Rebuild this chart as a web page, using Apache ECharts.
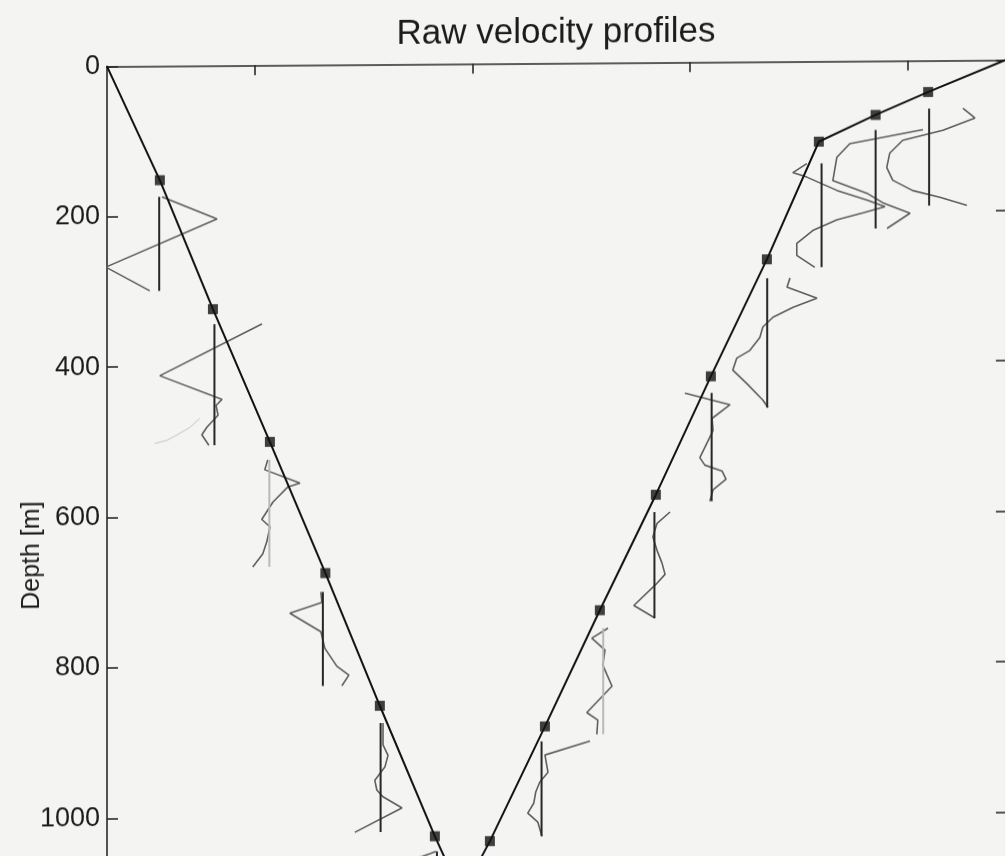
<!DOCTYPE html>
<html>
<head>
<meta charset="utf-8">
<title>Raw velocity profiles</title>
<script src="https://cdn.jsdelivr.net/npm/echarts@6/dist/echarts.min.js"></script>
<style>
  html, body { margin: 0; padding: 0; background: #f4f4f2; overflow: hidden; }
  /* the scanned original is slightly sheared: right side sits ~6px higher */
  #chart { width: 1010px; height: 1100px; transform: skewY(-0.41deg); transform-origin: 107px 0; }
</style>
</head>
<body>
<div id="chart"></div>
<script>
(function () {
  var FONT = "'Liberation Sans', Arial, Helvetica, sans-serif";

  // cast track: stations (black squares), time [min] vs depth [m]
  var stationTime  = [11.26, 16.14, 21.38, 26.48, 31.49, 36.55, 41.61, 46.67, 51.72, 56.87, 61.93, 67.08, 71.86, 77.08, 81.91];
  var stationDepth = [152, 324, 501, 676, 853, 1027, 1034, 882, 728, 575, 418, 263, 107, 72, 42];
  var castStart = [6.4, 0];
  var castTurn  = [39.0, 1105];
  var castEnd   = [89.06, 0];

  // axis ticks
  var timeTicks = [20, 40, 60, 80];
  var depthStep = 200;

  // velocity profiles hanging below each station (zero line at profileTime)
  var profileTime = [11.20, 16.28, 21.33, 26.25, 31.56, 36.74, 46.36, 52.03, 56.74, 62.00, 67.11, 72.11, 77.08, 82.00];
  var profileDepths = [
    [174, 204, 267, 299],
    [344, 412, 444, 452, 465, 481, 491, 505],
    [525, 538, 556, 561, 581, 604, 614, 634, 650, 667],
    [701, 715, 729, 754, 776, 800, 812, 826],
    [876, 905, 919, 934, 952, 965, 974, 989, 1021],
    [1047, 1050, 1056],
    [902, 920, 943, 956, 969, 984, 997, 1009, 1028],
    [752, 765, 781, 801, 814, 829, 864, 874, 893],
    [598, 613, 631, 649, 666, 681, 694, 722, 739],
    [440, 456, 474, 490, 507, 526, 536, 544, 555, 569, 584],
    [288, 300, 315, 327, 340, 353, 367, 384, 394, 410, 428, 450, 460],
    [136, 148, 154, 172, 185, 194, 202, 211, 225, 242, 258, 274],
    [92, 110, 128, 159, 176, 189, 203, 223],
    [64, 77, 93, 106, 123, 142, 159, 173, 182, 193]
  ];
  var profileVels = [
    [1.4, 28.9, -26.7, -4.7],
    [23.8, -27.3, 3.8, 0.8, 1.8, -3.8, -6.3, -2.8],
    [-0.8, -2.3, 15.3, 9.3, 1.8, -3.8, 0.3, -1.3, -3.3, -8.3],
    [-1, -0.5, -16.5, -1, 1, 7, 13, 9.5],
    [1.2, 1.2, 3.7, 2.2, -2.9, -1.9, 1.2, 10.7, -12.9],
    [-0.5, -3.5, -10],
    [24.2, 1.7, 3.2, -0.9, -2.9, -3.9, -6.9, -1.9, 0.2],
    [2.4, -5.7, 0.9, -0.2, 1.9, 4.4, -8.2, -2.7, -3.2],
    [7.8, 1.3, -0.8, 1.3, 3.8, 5.3, 0.8, -10.3, 0.3],
    [-13.4, 9.2, 0.2, 0.7, -2.4, -5.9, -3.4, 5.2, 7.2, 0.7, -0.9],
    [11.4, 9.9, 24.9, 12.9, 2.9, -2.2, -3.7, -8.7, -15.2, -17.2, -10.2, -2.2, 0.4],
    [-7.4, -14.4, -7.4, 7.7, 22.7, 31.7, 20.7, 7.7, -4.4, -12.4, -12.4, -3.4],
    [23.7, -12.9, -19.4, -21.4, -4.4, 3.7, 17.2, 5.7],
    [16.9, 22.9, 6.9, -13.2, -19.7, -21.2, -18.2, -8.2, 5.4, 18.9]
  ];
  // faint extra trace next to the second profile
  var strayDepth = [469, 481, 491, 498, 502];
  var strayVel   = [-7.3, -12.3, -18.8, -23.8, -29.8];

  var VEL_SCALE = 2 / 10.875;   // minutes of x-axis per cm/s
  var lightRefs = [2, 7];       // zero lines printed in light grey

  // build cast track
  var track = [castStart];
  for (var i = 0; i < stationTime.length; i++) {
    if (i == 6) track.push(castTurn);
    track.push([stationTime[i], stationDepth[i]]);
  }
  track.push(castEnd);

  var squares = [];
  for (var s = 0; s < stationTime.length; s++) {
    squares.push([stationTime[s], stationDepth[s]]);
  }

  var series = [];

  // profiles + their zero lines
  for (var p = 0; p < profileTime.length; p++) {
    var pts = [];
    for (var k = 0; k < profileDepths[p].length; k++) {
      pts.push([profileTime[p] + profileVels[p][k] * VEL_SCALE, profileDepths[p][k]]);
    }
    var dMin = Math.min.apply(null, profileDepths[p]);
    var dMax = Math.max.apply(null, profileDepths[p]);
    series.push({
      type: 'line',
      data: [[profileTime[p], dMin], [profileTime[p], dMax]],
      symbol: 'none',
      silent: true,
      z: 3,
      lineStyle: { color: lightRefs.indexOf(p) >= 0 ? '#b9b9b7' : '#262626', width: 2 }
    });
    series.push({
      type: 'line',
      data: pts,
      symbol: 'none',
      silent: true,
      z: 2,
      lineStyle: { color: '#5e5e5e', width: 1.6 }
    });
  }

  var stray = [];
  for (var j = 0; j < strayDepth.length; j++) {
    stray.push([profileTime[1] + strayVel[j] * VEL_SCALE, strayDepth[j]]);
  }
  series.push({
    type: 'line',
    data: stray,
    symbol: 'none',
    silent: true,
    z: 1,
    lineStyle: { color: '#c4c4c2', width: 1 }
  });

  series.push({
    type: 'line',
    data: track,
    symbol: 'none',
    z: 5,
    lineStyle: { color: '#111', width: 2 }
  });
  series.push({
    type: 'scatter',
    data: squares,
    symbol: 'rect',
    symbolSize: 10,
    z: 6,
    itemStyle: { color: '#111' }
  });

  var axisLineStyle = { color: '#2a2a2a', width: 1.6 };

  var chart = echarts.init(document.getElementById('chart'), null, { renderer: 'canvas' });
  chart.setOption({
    animation: false,
    backgroundColor: '#f4f4f2',
    title: {
      text: 'Raw velocity profiles',
      left: 551,
      top: 14,
      textAlign: 'center',
      textStyle: { fontFamily: FONT, fontSize: 35, fontWeight: 'normal', color: '#1c1c1c' }
    },
    grid: {
      left: 107,
      top: 66.3,
      width: (castEnd[0] - castStart[0]) * 10.875,
      height: 977.6,
      containLabel: false,
      outerBoundsMode: 'none'
    },
    xAxis: {
      type: 'value',
      position: 'top',
      min: castStart[0],
      max: castEnd[0],
      axisLine: { show: true, onZero: false, lineStyle: axisLineStyle },
      axisTick: { show: true, inside: true, length: 10, customValues: timeTicks, lineStyle: axisLineStyle },
      axisLabel: { show: false },
      splitLine: { show: false }
    },
    yAxis: [
      {
        type: 'value',
        position: 'left',
        inverse: true,
        min: 0,
        max: 1300,
        interval: depthStep,
        name: 'Depth [m]',
        nameLocation: 'middle',
        nameGap: 62,
        nameMoveOverlap: false,
        nameTextStyle: { fontFamily: FONT, fontSize: 25, color: '#1c1c1c' },
        axisLine: { show: true, onZero: false, lineStyle: axisLineStyle },
        axisTick: { show: true, inside: true, length: 11, lineStyle: axisLineStyle },
        axisLabel: {
          fontFamily: FONT, fontSize: 27, color: '#1c1c1c', margin: 7,
          formatter: function (v) { return String(v); }
        },
        splitLine: { show: false }
      },
      {
        type: 'value',
        position: 'right',
        inverse: true,
        min: 0,
        max: 1300,
        interval: depthStep,
        axisLine: { show: true, onZero: false, lineStyle: axisLineStyle },
        axisTick: { show: true, inside: true, length: 10, lineStyle: axisLineStyle },
        axisLabel: { show: false },
        splitLine: { show: false }
      }
    ],
    series: series
  });
})();
</script>
</body>
</html>
